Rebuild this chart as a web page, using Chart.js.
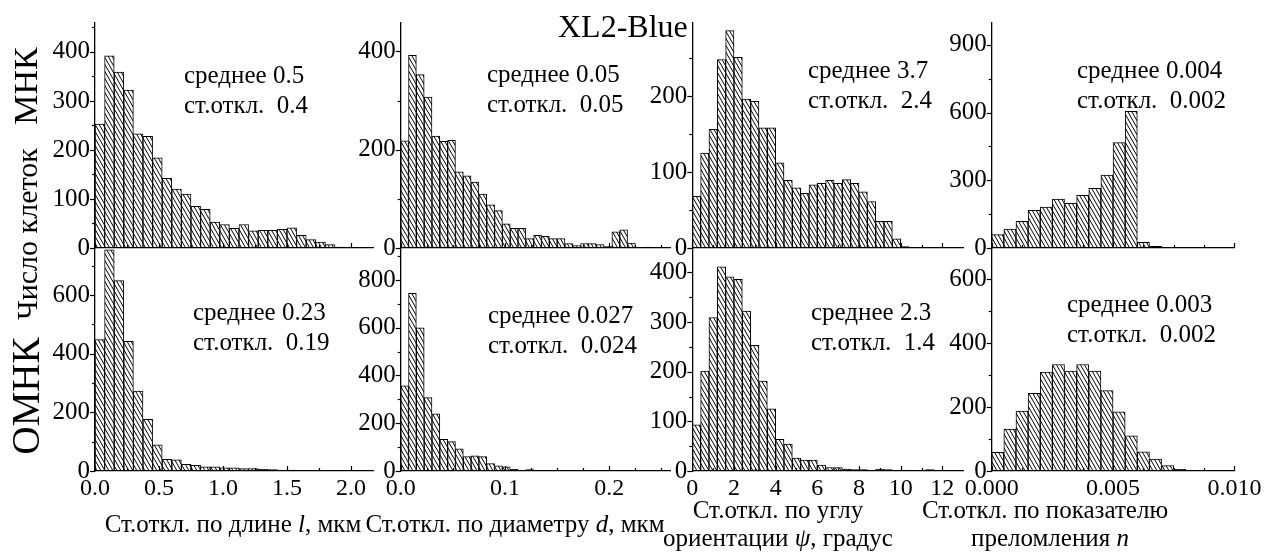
<!DOCTYPE html>
<html>
<head>
<meta charset="utf-8">
<script src="https://cdn.jsdelivr.net/npm/chart.js@4.4.0/dist/chart.umd.min.js"></script>
<style>
  html, body { margin: 0; padding: 0; background: #fff; }
  #wrap { position: relative; width: 1264px; height: 554px; overflow: hidden;
          font-family: 'Liberation Serif', 'Times New Roman', serif; color: #000; }
  #wrap canvas { position: absolute; left: 0; top: 0; }
  .t { position: absolute; white-space: nowrap; }
</style>
</head>
<body>
<div id="wrap"></div>
<script>
// ---- histogram data: counts per bin (МНК = top row, ОМНК = bottom row) ----
const binLength   = 0.075;   // мкм
const binDiameter = 0.0075;  // мкм
const binAngle    = 0.4;     // градус
const binIndex    = 0.0005;

const lengthMNK  = [253, 392, 359, 322, 233, 228, 184, 142, 120, 110, 85, 79, 53, 48, 40, 48, 35, 36, 36, 38, 41, 26, 17, 12, 7, 2];
const lengthOMNK = [448, 754, 649, 442, 272, 176, 89, 40, 38, 23, 19, 14, 14, 11, 11, 8, 8, 6, 5, 3, 3, 2, 2, 2, 1, 1];
const diamMNK    = [218, 392, 353, 307, 228, 217, 219, 155, 147, 134, 110, 88, 76, 49, 40, 40, 19, 26, 24, 19, 19, 9, 5, 9, 9, 7, 3, 33, 37, 10, 0, 2];
const diamOMNK   = [357, 744, 600, 307, 239, 133, 123, 93, 60, 64, 60, 31, 22, 17, 7, 4, 6, 2, 2, 3, 1, 1, 1, 1, 0, 0, 1, 0, 1];
const angleMNK   = [68, 125, 156, 248, 286, 251, 196, 193, 158, 158, 112, 89, 79, 72, 83, 85, 89, 85, 90, 85, 74, 61, 35, 35, 12, 2];
const angleOMNK  = [93, 201, 309, 411, 391, 386, 322, 253, 181, 125, 64, 54, 26, 22, 22, 12, 7, 7, 4, 3, 3, 2, 4, 3, 1, 2, 1, 1, 3, 1];
const indexMNK   = [59, 84, 118, 167, 181, 217, 198, 233, 264, 323, 467, 606, 25, 7, 0, 0, 3];
const indexOMNK  = [58, 131, 187, 243, 309, 333, 312, 333, 312, 251, 185, 110, 60, 37, 17, 5, 2, 1, 1];

// ---- tick labels ----
const xTicksLength = [0.0, 0.5, 1.0, 1.5, 2.0];
const xTicksDiam   = [0.0, 0.1, 0.2];
const xTicksAngle  = [0, 2, 4, 6, 8, 10, 12];
const xTicksIndex  = [0.000, 0.005, 0.010];

const yTicksLengthMNK  = [0, 100, 200, 300, 400];
const yTicksLengthOMNK = [0, 200, 400, 600];
const yTicksDiamMNK    = [0, 200, 400];
const yTicksDiamOMNK   = [0, 200, 400, 600, 800];
const yTicksAngleMNK   = [0, 100, 200];
const yTicksAngleOMNK  = [0, 100, 200, 300, 400];
const yTicksIndexMNK   = [0, 300, 600, 900];
const yTicksIndexOMNK  = [0, 200, 400, 600];

// ---- summary statistics printed inside each panel ----
const meanMNK  = ['0.5', '0.05', '3.7', '0.004'];
const sdMNK    = ['0.4', '0.05', '2.4', '0.002'];
const meanOMNK = ['0.23', '0.027', '2.3', '0.003'];
const sdOMNK   = ['0.19', '0.024', '1.4', '0.002'];

const W = 1264, H = 554;
const YW = 80, XH = 40;          // fixed axis box sizes
const FONT = "'Liberation Serif', 'Times New Roman', serif";
const wrap = document.getElementById('wrap');

// diagonal hatch fill for the bars
function makeHatch() {
  const tw = 4, th = 7;
  const c = document.createElement('canvas');
  c.width = tw; c.height = th;
  const g = c.getContext('2d');
  g.fillStyle = '#fff';
  g.fillRect(0, 0, tw, th);
  g.strokeStyle = '#000';
  g.lineWidth = 1;
  for (const dx of [-tw, 0, tw]) {
    g.beginPath();
    g.moveTo(dx - tw, -th);
    g.lineTo(dx + 2 * tw, 2 * th);
    g.stroke();
  }
  return g.createPattern(c, 'repeat');
}
const hatch = makeHatch();

// inward x ticks, outward y ticks, major + minor
const tickMarks = {
  id: 'tickMarks',
  afterDraw(chart, args, o) {
    const ctx = chart.ctx, xs = chart.scales.x, ys = chart.scales.y;
    const a = chart.chartArea;
    ctx.save();
    ctx.strokeStyle = '#000';
    ctx.lineWidth = 1.2;
    const near = (list, v, tol) => list.some(m => Math.abs(m - v) < tol);
    for (let k = 0; ; k++) {
      const v = k * o.xMinor;
      if (v > xs.max + o.xMinor * 1e-6) break;
      const px = Math.round(xs.getPixelForValue(v)) + 0.5;
      const len = near(o.xMajor, v, o.xMinor * 1e-3) ? 5 : 3;
      ctx.beginPath(); ctx.moveTo(px, a.bottom); ctx.lineTo(px, a.bottom - len); ctx.stroke();
    }
    for (let k = 0; ; k++) {
      const v = k * o.yMinor;
      if (v > ys.max + 1e-9) break;
      const py = Math.round(ys.getPixelForValue(v)) + 0.5;
      const len = o.yMajor.includes(v) ? 5 : 3;
      ctx.beginPath(); ctx.moveTo(a.left, py); ctx.lineTo(a.left - len, py); ctx.stroke();
    }
    ctx.restore();
  }
};

function panel(p) {
  const cv = document.createElement('canvas');
  cv.width = W; cv.height = H;
  wrap.appendChild(cv);
  const top = p.row === 0 ? 23 : 248;
  const bottom = p.row === 0 ? 248 : 471;
  new Chart(cv.getContext('2d'), {
    type: 'bar',
    data: {
      datasets: [{
        data: p.values.map((v, i) => ({ x: (i + 0.5) * p.bin, y: v })),
        backgroundColor: hatch,
        borderColor: '#000',
        borderWidth: 1,
        barPercentage: 1,
        categoryPercentage: 1,
        borderSkipped: 'start'
      }]
    },
    options: {
      responsive: false,
      animation: false,
      devicePixelRatio: 1,
      events: [],
      layout: { padding: { left: p.axisX - YW, right: W - p.right, top: top, bottom: H - bottom - XH } },
      plugins: { legend: { display: false }, tooltip: { enabled: false },
                 tickMarks: { xMajor: p.xTicks, xMinor: p.xMinor, yMajor: p.yTicks, yMinor: p.yMinor } },
      scales: {
        x: {
          type: 'linear', min: 0, max: p.xMax, offset: false,
          grid: { display: false, drawTicks: true, tickLength: 3, offset: false },
          border: { display: true, color: '#000', width: 1.3, z: 1 },
          ticks: { display: p.row === 1, padding: 0, autoSkip: false, maxRotation: 0, color: '#000',
                   font: { family: FONT, size: 24 },
                   callback: (v) => Number(v).toFixed(p.dec) },
          afterBuildTicks: (s) => { s.ticks = p.xTicks.map(v => ({ value: v })); },
          afterFit: (s) => { s.height = XH; }
        },
        y: {
          min: 0, max: p.yMax,
          grid: { display: false, drawTicks: true, tickLength: 4 },
          border: { display: true, color: '#000', width: 1.3, z: 1 },
          ticks: { padding: 1, color: '#000', font: { family: FONT, size: 25 },
                   callback: (v) => String(v) },
          afterBuildTicks: (s) => { s.ticks = p.yTicks.map(v => ({ value: v })); },
          afterFit: (s) => { s.width = YW; }
        }
      }
    },
    plugins: [tickMarks]
  });
}

const cols = [
  { axisX: 95,    right: 373,    xMax: 2.172,  bin: binLength,   xTicks: xTicksLength, xMinor: 0.25,    dec: 1 },
  { axisX: 400.7, right: 670,    xMax: 0.2582, bin: binDiameter, xTicks: xTicksDiam,   xMinor: 0.025,   dec: 1 },
  { axisX: 692.3, right: 963,    xMax: 12.99,  bin: binAngle,    xTicks: xTicksAngle,  xMinor: 1,       dec: 0 },
  { axisX: 991.7, right: 1234.4, xMax: 0.010,  bin: binIndex,    xTicks: xTicksIndex,  xMinor: 0.00125, dec: 3 }
];
const rows = [
  [ { values: lengthMNK,  yMax: 459, yTicks: yTicksLengthMNK,  yMinor: 50 },
    { values: diamMNK,    yMax: 458, yTicks: yTicksDiamMNK,    yMinor: 100 },
    { values: angleMNK,   yMax: 296, yTicks: yTicksAngleMNK,   yMinor: 50 },
    { values: indexMNK,   yMax: 997, yTicks: yTicksIndexMNK,   yMinor: 150 } ],
  [ { values: lengthOMNK, yMax: 760, yTicks: yTicksLengthOMNK, yMinor: 100 },
    { values: diamOMNK,   yMax: 934, yTicks: yTicksDiamOMNK,   yMinor: 100 },
    { values: angleOMNK,  yMax: 449, yTicks: yTicksAngleOMNK,  yMinor: 50 },
    { values: indexOMNK,  yMax: 697, yTicks: yTicksIndexOMNK,  yMinor: 100 } ]
];
rows.forEach((r, ri) => r.forEach((c, ci) => panel(Object.assign({ row: ri }, cols[ci], c))));

// ---- text: positioned by baseline (line-height 1, Liberation Serif metrics) ----
function text(html, x, baseline, fs, align) {
  const d = document.createElement('div');
  d.className = 't';
  d.style.fontSize = fs + 'px';
  d.style.lineHeight = fs + 'px';
  d.style.top = (baseline - 0.8375 * fs) + 'px';
  d.style.left = x + 'px';
  if (align === 'center') d.style.transform = 'translateX(-50%)';
  d.innerHTML = html;
  wrap.appendChild(d);
}
function vtext(html, baselineX, centerY, fs) {
  const d = document.createElement('div');
  d.className = 't';
  d.style.fontSize = fs + 'px';
  d.style.lineHeight = fs + 'px';
  d.style.left = (baselineX - 0.3375 * fs) + 'px';
  d.style.top = centerY + 'px';
  d.style.transform = 'translate(-50%, -50%) rotate(-90deg)';
  d.innerHTML = html;
  wrap.appendChild(d);
}

text('XL2-Blue', 558, 37, 32);

const statPos = [
  [[184, 83], [487, 82], [808, 78], [1077, 78]],
  [[193, 320], [488, 323], [811, 320], [1067, 312]]
];
const STAT_FS = 25, STAT_GAP = 30;
[[meanMNK, sdMNK], [meanOMNK, sdOMNK]].forEach(([m, s], ri) => {
  statPos[ri].forEach(([x, y], ci) => {
    text('среднее ' + m[ci], x, y, STAT_FS);
    text('ст.откл.&nbsp;&nbsp;' + s[ci], x, y + STAT_GAP, STAT_FS);
  });
});

vtext('МНК', 37, 86, 34);
vtext('Число клеток', 37, 234, 30);
vtext('ОМНК', 38, 396, 39);

const TFS = 25;
text('Ст.откл. по длине <i>l</i>, мкм', 233, 532, TFS, 'center');
text('Ст.откл. по диаметру <i>d</i>, мкм', 515, 532, TFS, 'center');
text('Ст.откл. по углу', 778, 518, TFS, 'center');
text('ориентации <i>ψ</i>, градус', 778, 546, TFS, 'center');
text('Ст.откл. по показателю', 1045, 518, TFS, 'center');
text('преломления <i>n</i>', 1050, 546, TFS, 'center');
</script>
</body>
</html>
